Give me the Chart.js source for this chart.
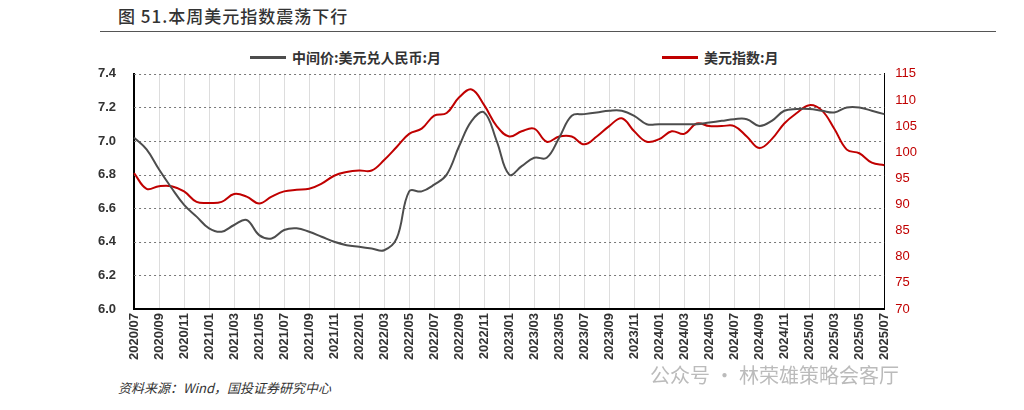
<!DOCTYPE html>
<html><head><meta charset="utf-8">
<script src="https://cdn.jsdelivr.net/npm/chart.js@4"></script>
<style>
body{margin:0;background:#fff;font-family:"Noto Sans CJK SC","Noto Sans",sans-serif;width:1024px;height:410px;position:relative;overflow:hidden}
#title{position:absolute;left:118px;top:3px;font-size:17px;color:#333;letter-spacing:1px;font-weight:500}
#rule{position:absolute;left:100px;right:28px;top:31px;border-top:1px solid #555}
#wrap{position:absolute;left:40px;top:56px;width:880px;height:308px}
.lg{position:absolute;top:47px;font-size:14px;font-weight:bold;color:#333;display:flex;align-items:center}
.lg span{display:inline-block;width:36px;height:3px;margin-right:6px}
#src{position:absolute;left:118px;top:378px;font-size:13px;font-style:italic;color:#333}
#wm{position:absolute;left:650px;top:360px;font-size:20px;color:#bbb}
</style></head><body>
<div id="title">图 51.本周美元指数震荡下行</div>
<div id="rule"></div>
<div class="lg" style="left:250px"><span style="background:#4d4d4d"></span>中间价:美元兑人民币:月</div>
<div class="lg" style="left:662px"><span style="background:#c00000"></span>美元指数:月</div>
<div id="wrap"><canvas id="c"></canvas></div>
<div id="src">资料来源：Wind，国投证券研究中心</div>
<div id="wm">公众号 · 林荣雄策略会客厅</div>
<script>
// monthly labels 2020/07 - 2025/07
const months = [];
for (let y = 2020; y <= 2025; y++) {
    for (let m = 1; m <= 12; m++) {
        if ((y === 2020 && m < 7) || (y === 2025 && m > 7)) continue;
        months.push(y + '/' + String(m).padStart(2, '0'));
    }
}

const usdCny = [7.02,6.95,6.83,6.72,6.62,6.55,6.48,6.46,6.50,6.53,6.44,6.42,
    6.47,6.48,6.46,6.43,6.40,6.38,6.37,6.36,6.35,6.42,6.70,6.70,
    6.74,6.80,6.97,7.12,7.17,7.00,6.80,6.85,6.90,6.90,7.02,7.15,
    7.16,7.17,7.18,7.18,7.15,7.10,7.10,7.10,7.10,7.10,7.11,7.12,
    7.13,7.13,7.09,7.12,7.18,7.19,7.19,7.18,7.17,7.20,7.20,7.18,7.16];

const dxy = [96,93,93.5,93.5,92.5,90.5,90.3,90.5,92,91.5,90.2,91.5,
    92.5,92.8,93,94,95.5,96.2,96.5,96.5,98.5,101,103.5,104.5,
    107,107.5,110.5,112,109,105,103,104,104.5,102,103,103,
    101.5,103,105,106.5,104,102,102.5,104,103.5,105.5,105,105,
    105,103,100.8,102.5,105.5,107.5,109,108,104.5,100.5,99.8,98,97.5];

new Chart(document.getElementById('c'), {
    type: 'line',
    data: {
        labels: months,
        datasets: [
            { label: '中间价:美元兑人民币:月', data: usdCny, yAxisID: 'y', borderColor: '#4d4d4d', borderWidth: 2, pointRadius: 0, tension: 0.4 },
            { label: '美元指数:月', data: dxy, yAxisID: 'y1', borderColor: '#c00000', borderWidth: 2, pointRadius: 0, tension: 0.4 }
        ]
    },
    options: {
        responsive: true, maintainAspectRatio: false, animation: false,
        layout: { padding: { left: 48, right: 0, top: 2 } },
        plugins: { legend: { display: false }, tooltip: { enabled: false } },
        scales: {
            x: {
                grid: { color: '#ddd', drawTicks: false },
                border: { color: '#000', width: 2 },
                ticks: {
                    autoSkip: false, maxRotation: 90, minRotation: 90, color: '#333',
                    font: { size: 13, weight: 'bold' }, padding: 4,
                    callback: (v, i) => i % 2 === 0 ? months[i] : null
                }
            },
            y: {
                position: 'left', min: 6.0, max: 7.4,
                ticks: { stepSize: 0.2, color: '#333', font: { size: 13, weight: 'bold' }, padding: 10, callback: v => v.toFixed(1) },
                grid: { display: false },
                border: { color: '#000', width: 2 }
            },
            y1: {
                position: 'right', min: 70, max: 115,
                ticks: { stepSize: 5, color: '#c00000', font: { size: 13 } },
                grid: { display: false },
                border: { color: '#000', width: 1 }
            }
        }
    },
    plugins: [{
        id: 'dots',
        beforeDatasetsDraw(chart) {
            // dotted horizontal gridlines
            const { ctx, chartArea: a, scales: { y } } = chart;
            ctx.save();
            ctx.strokeStyle = '#777';
            ctx.setLineDash([2, 3]);
            for (let v = 6.2; v <= 7.41; v += 0.2) {
                const py = Math.round(y.getPixelForValue(v)) + 0.5;
                ctx.beginPath(); ctx.moveTo(a.left, py); ctx.lineTo(a.right, py); ctx.stroke();
            }
            ctx.restore();
        }
    }]
});
</script>
</body></html>
